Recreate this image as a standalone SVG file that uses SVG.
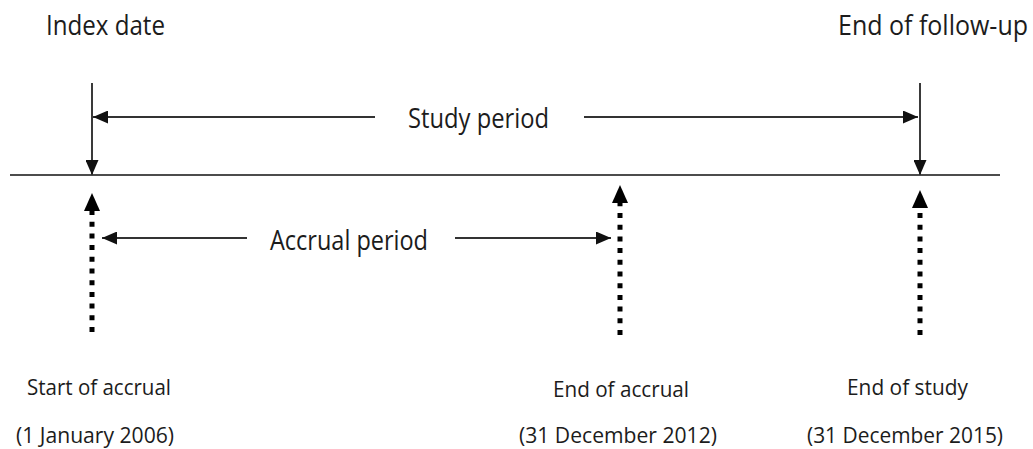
<svg xmlns="http://www.w3.org/2000/svg" width="1033" height="449" viewBox="0 0 1033 449">
  <style>
    .label { font-family: "Open Sans", "Noto Sans", sans-serif; fill: #1c1c1c; }
    .big { font-size: 27px; }
    .small { font-size: 22px; }
    .axis { stroke: #111; stroke-width: 1.6; fill: none; }
    .marker-line { stroke: #3a3a3a; stroke-width: 2; fill: none; }
    .span { stroke: #333; stroke-width: 2.2; fill: none; }
    .dots { stroke: #000; stroke-width: 5; stroke-dasharray: 5 6.7; fill: none; }
  </style>
  <defs>
    <marker id="head" markerUnits="userSpaceOnUse" markerWidth="15" markerHeight="13" refX="15" refY="6.5" orient="auto">
      <path d="M0,0 L15,6.5 L0,13 z" fill="#111"/>
    </marker>
    <marker id="bighead" markerUnits="userSpaceOnUse" markerWidth="18" markerHeight="16" refX="0" refY="8" orient="auto">
      <path d="M0,0 L18,8 L0,16 z" fill="#000"/>
    </marker>
  </defs>

  <!-- timeline axis -->
  <g id="timeline">
    <line class="axis" x1="10" y1="175" x2="1000" y2="175"/>
  </g>

  <g id="connectors">
    <!-- index date and end of follow-up markers -->
    <line class="marker-line" x1="92" y1="83" x2="92" y2="175" marker-end="url(#head)"/>
    <line class="marker-line" x1="920" y1="83" x2="920" y2="175" marker-end="url(#head)"/>

    <!-- study period span -->
    <line class="span" x1="375" y1="117" x2="93" y2="117" marker-end="url(#head)"/>
    <line class="span" x1="584" y1="117" x2="918" y2="117" marker-end="url(#head)"/>

    <!-- accrual period span -->
    <line class="span" x1="247" y1="238" x2="102" y2="238" marker-end="url(#head)"/>
    <line class="span" x1="455" y1="238" x2="611" y2="238" marker-end="url(#head)"/>

    <!-- dotted event arrows -->
    <line class="dots" x1="92" y1="332" x2="92" y2="211" marker-end="url(#bighead)"/>
    <line class="dots" x1="620" y1="335" x2="620" y2="203" marker-end="url(#bighead)"/>
    <line class="dots" x1="920" y1="335" x2="920" y2="208" marker-end="url(#bighead)"/>
  </g>

  <g id="index-date">
    <text class="label big" x="46" y="35" textLength="119" lengthAdjust="spacingAndGlyphs">Index date</text>
  </g>
  <g id="end-of-follow-up">
    <text class="label big" x="838" y="35" textLength="190" lengthAdjust="spacingAndGlyphs">End of follow-up</text>
  </g>
  <g id="study-period">
    <text class="label big" x="408" y="128" textLength="141" lengthAdjust="spacingAndGlyphs">Study period</text>
  </g>
  <g id="accrual-period">
    <text class="label big" x="270" y="250" textLength="158" lengthAdjust="spacingAndGlyphs">Accrual period</text>
  </g>
  <g id="start-of-accrual">
    <text class="label small" x="27" y="395" textLength="144" lengthAdjust="spacingAndGlyphs">Start of accrual</text>
    <text class="label small" x="16" y="443" textLength="158" lengthAdjust="spacingAndGlyphs">(1 January 2006)</text>
  </g>
  <g id="end-of-accrual">
    <text class="label small" x="553" y="397" textLength="136" lengthAdjust="spacingAndGlyphs">End of accrual</text>
    <text class="label small" x="519" y="443" textLength="198" lengthAdjust="spacingAndGlyphs">(31 December 2012)</text>
  </g>
  <g id="end-of-study">
    <text class="label small" x="847" y="395" textLength="121" lengthAdjust="spacingAndGlyphs">End of study</text>
    <text class="label small" x="807" y="443" textLength="196" lengthAdjust="spacingAndGlyphs">(31 December 2015)</text>
  </g>
</svg>
